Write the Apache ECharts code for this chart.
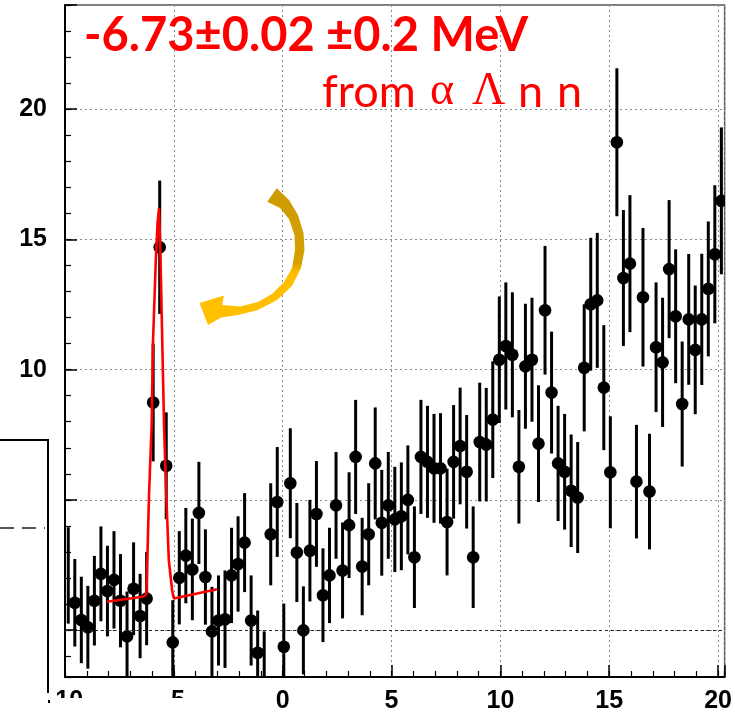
<!DOCTYPE html>
<html><head><meta charset="utf-8">
<script src="https://cdn.jsdelivr.net/npm/echarts@6/dist/echarts.min.js"></script>
<style>html,body{margin:0;padding:0;background:#fff}#c{width:735px;height:714px}</style>
</head><body><div id="c"></div>
<script>
// histogram bins: 101 bins of width 0.3 starting at -10
const binStart = -10;
const binWidth = 0.3;
const counts = [
  2.1, 1.05, 0.39, 0.11, 1.13, 2.16, 1.5, 1.93, 1.13, -0.24,
  1.59, 0.54, 1.21, 8.74, 14.7, 6.31, -0.47, 2.01, 2.86, 2.33,
  4.5, 2.04, -0.05, 0.37, 0.42, 2.1, 2.54, 3.36, 0.37, -0.87,
  -2.0, 3.68, 4.92, -0.64, 5.64, 2.98, -0.01, 3.05, 4.46, 1.34,
  2.1, 4.79, 2.29, 4.03, 6.65, 2.44, 3.68, 6.4, 4.12, 4.79,
  4.25, 4.37, 5.0, 2.8, 6.65, 6.46, 6.21, 6.21, 4.15, 6.46,
  7.07, 6.08, 2.8, 7.22, 7.12, 8.08, 10.38, 10.91, 10.57, 6.27,
  10.13, 10.38, 7.16, 12.28, 9.12, 6.4, 6.08, 5.35, 5.09, 10.07,
  12.51, 12.66, 9.31, 6.06, 18.73, 13.52, 14.07, 5.7, 12.78, 5.32,
  10.86, 10.28, 13.86, 12.05, 8.68, 11.93, 10.76, 11.93, 13.1, 14.43,
  16.48
];
const errors = [
  1.85, 1.68, 1.66, 1.59, 1.72, 1.82, 1.74, 1.87, 1.79, 1.72,
  1.78, 1.62, 1.79, 2.26, 2.56, 2.05, 1.62, 1.79, 1.83, 1.95,
  1.96, 1.83, 1.71, 1.73, 1.87, 1.83, 1.83, 1.9, 1.73, 1.62,
  1.95, 1.96, 2.11, 1.66, 2.11, 1.9, 1.69, 1.95, 2.03, 1.8,
  1.83, 2.05, 1.84, 2.03, 2.19, 1.87, 1.96, 2.15, 2.03, 2.05,
  2.02, 2.07, 2.09, 1.95, 2.19, 2.15, 2.09, 2.12, 2.05, 2.18,
  2.24, 2.18, 1.95, 2.28, 2.18, 2.24, 2.43, 2.44, 2.4, 2.18,
  2.4, 2.38, 2.24, 2.47, 2.34, 2.21, 2.22, 2.16, 2.13, 2.44,
  2.55, 2.59, 2.4, 2.15, 2.84, 2.61, 2.63, 2.18, 2.66, 2.22,
  2.49, 2.48, 2.65, 2.57, 2.4, 2.51, 2.47, 2.52, 2.59, 2.65,
  2.82
];
// fitted curve, points
const fitX = [-8.07, -6.37, -6.26, -6.14, -6.02, -5.96, -5.83, -5.75, -5.68, -5.61, -5.53, -5.45, -5.35, -5.23, -5.08, -5.0, -3.02];
const fitY = [1.09, 1.29, 1.4, 5.2, 7.85, 11.0, 14.18, 15.6, 16.2, 14.18, 11.0, 7.85, 5.2, 2.67, 1.53, 1.21, 1.57];

const titleText = '-6.73\u00b10.02 \u00b10.2 MeV';
const subWords = ['from', '\u03b1', '\u039b', 'n', 'n'];
const xMajorTicks = [-10, -5, 0, 5, 10, 15, 20];
const yMajorTicks = [0, 5, 10, 15, 20];

const histData = counts.map((v, i) => [binStart + binWidth * (i + 0.5), v, errors[i]]);
const fitData = fitX.map((x, i) => [x, fitY[i]]);

const chart = echarts.init(document.getElementById('c'), null, {renderer: 'canvas'});
const gridLine = {show: true, lineStyle: {color: '#8a8a8a', type: [2, 3], width: 1}};
const labelFont = {fontFamily: 'Liberation Sans', fontWeight: 'bold', fontSize: 25, color: '#000'};

const GRID = {left: 65, right: 7, top: 5, bottom: 30};
const plotLeft = GRID.left, plotRight = 735 - GRID.right;

// subtitle word placement (layout only)
const subX = [322, 430, 472, 518, 557];
const subFonts = ['45px Lato', '46px "Liberation Serif"', '46px "Liberation Serif"', '45px Lato', '45px Lato'];

chart.setOption({
  animation: false,
  backgroundColor: '#fff',
  grid: Object.assign({show: true, borderColor: '#555', borderWidth: 1.5, backgroundColor: 'transparent'}, GRID),
  xAxis: [
    {type: 'value', min: -10, max: 20.3, interval: 5, position: 'bottom',
     axisLine: {show: true, onZero: false, lineStyle: {color: '#000', width: 2}},
     axisTick: {show: true, inside: true, length: 12, lineStyle: {color: '#000', width: 1.5}},
     axisLabel: Object.assign({margin: 12, formatter: v => (xMajorTicks.includes(v) ? String(v) : '')}, labelFont),
     splitLine: gridLine},
    {type: 'value', min: -10, max: 20.3, interval: 1, position: 'bottom',
     axisLine: {show: false, onZero: false},
     axisTick: {show: true, inside: true, length: 6, lineStyle: {color: '#000', width: 1.2}},
     axisLabel: {show: false}, splitLine: {show: false}}
  ],
  yAxis: [
    {type: 'value', min: -1.8, max: 24, splitNumber: 5, position: 'left',
     axisLine: {show: true, onZero: false, lineStyle: {color: '#000', width: 2}},
     axisTick: {show: true, inside: true, length: 12, lineStyle: {color: '#000', width: 1.5}},
     axisLabel: Object.assign({margin: 18, formatter: v => (yMajorTicks.includes(v) ? String(v) : '')}, labelFont),
     splitLine: gridLine},
    {type: 'value', min: -1.8, max: 24, splitNumber: 26, position: 'left',
     axisLine: {show: false, onZero: false},
     axisTick: {show: true, inside: true, length: 6, lineStyle: {color: '#000', width: 1.2}},
     axisLabel: {show: false}, splitLine: {show: false}}
  ],
  series: [
    {type: 'custom', xAxisIndex: 0, yAxisIndex: 0, clip: true, z: 3,
     data: histData,
     renderItem: function (params, api) {
       const x = api.value(0), y = api.value(1), e = api.value(2);
       const c = api.coord([x, y]);
       const t = api.coord([x, y + e]);
       const b = api.coord([x, y - e]);
       const children = [
         {type: 'line', shape: {x1: c[0], y1: t[1], x2: c[0], y2: b[1]}, style: {stroke: '#000', lineWidth: 3}}
       ];
       // markers that would cross the frame are not drawn
       if (c[0] - plotLeft > 6 && plotRight - c[0] > 6) {
         children.push({type: 'circle', shape: {cx: c[0], cy: c[1], r: 6.3}, style: {fill: '#000'}});
       }
       return {type: 'group', children: children};
     }},
    {type: 'line', xAxisIndex: 0, yAxisIndex: 0, data: fitData, showSymbol: false, symbol: 'none',
     smooth: false, z: 5, lineStyle: {color: '#ff0000', width: 2.6},
     markLine: {silent: true, symbol: 'none', label: {show: false},
       lineStyle: {color: '#222', type: [3, 3], width: 1}, data: [{yAxis: 0}]}}
  ],
  graphic: [
    {type: 'text', z: 50, style: {text: titleText, x: 84, y: 36, fill: '#ff0000', font: 'bold 47px Lato', textVerticalAlign: 'middle'}}
  ].concat(subWords.map((w, i) => ({type: 'text', z: 50, style: {text: w, x: subX[i], y: 92, fill: '#ff0000', font: subFonts[i], textVerticalAlign: 'middle'}}))).concat([
    {type: 'polygon', z: 40, shape: {points: [
      [267.3, 201.7], [276.7, 188.3], [289, 200], [298, 215], [303.5, 233], [304.5, 250], [301, 268],
      [292, 286], [277, 300], [258, 310], [238, 315], [221, 317.5], [208, 325], [199.5, 303],
      [224, 295.5], [222, 305], [240, 306.5], [258, 302], [272, 294], [284, 282], [292, 268],
      [295, 250], [294.5, 235], [289, 219], [280, 208]
    ]}, style: {fill: {type: 'linear', x: 0, y: 0, x2: 0, y2: 1, colorStops: [
      {offset: 0, color: '#cc9a00'}, {offset: 0.55, color: '#d6a000'}, {offset: 0.62, color: '#ffbf00'}, {offset: 1, color: '#ffc000'}]}}},
    {type: 'rect', z: 60, shape: {x: 0, y: 440, width: 48, height: 274}, style: {fill: '#fff'}},
    {type: 'polyline', z: 61, shape: {points: [[0, 440], [48, 440], [48, 693]]}, style: {stroke: '#000', lineWidth: 2, fill: null}},
    {type: 'line', z: 61, shape: {x1: 0, y1: 528, x2: 45, y2: 528}, style: {stroke: '#555', lineWidth: 2, lineDash: [14, 8]}},
    {type: 'rect', z: 60, shape: {x: 50, y: 698, width: 150, height: 16}, style: {fill: '#fff'}}
  ])
});
</script>
</body></html>
